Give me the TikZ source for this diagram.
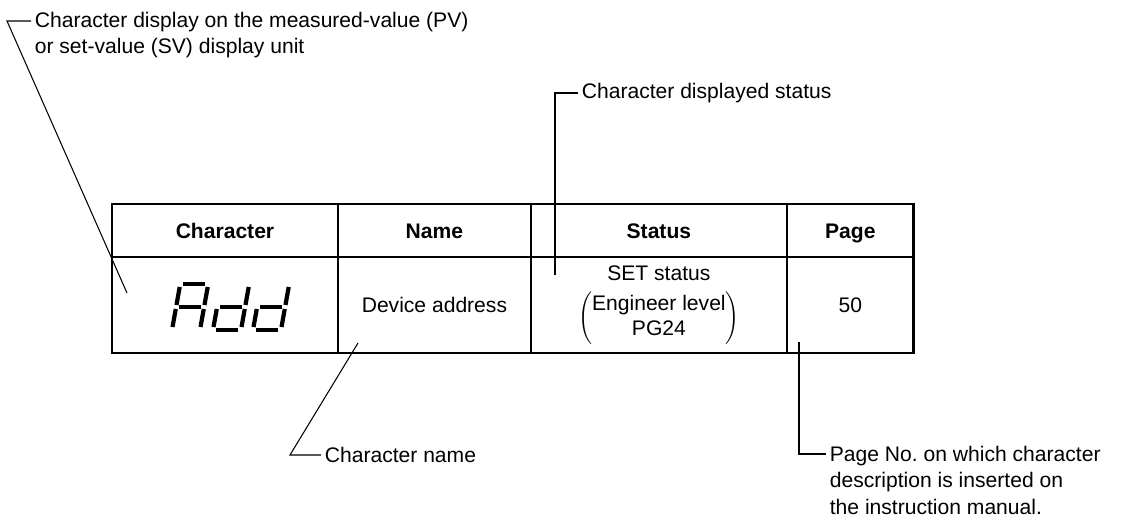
\documentclass[tikz,border=0pt]{standalone}
\usepackage{fontspec}
\setmainfont{Liberation Sans}
\usetikzlibrary{positioning, calc}
\tikzset{
	cell/.style = {draw, line width=1pt, inner sep=0pt, outer sep=0pt, align=center},
	headcell/.style = {cell, minimum height=1.06cm, font=\fontsize{12}{14}\selectfont\bfseries, text height=8.6pt, text depth=0pt},
	bodycell/.style = {cell, minimum height=1.92cm, font=\fontsize{12}{15}\selectfont},
	lbl/.style = {font=\fontsize{12}{15}\selectfont, align=left, inner xsep=2pt, inner ysep=0pt},
	leader/.style = {line width=0.6pt},
	seg/.style = {line width=2.4pt}
}
% one slanted 7-segment glyph: 0=a 1=b 2=c 3=d 4=e 5=f 6=g
\newcommand{\segdigit}[2]{%
	\begin{scope}[shift={#1}, xslant=0.18]
		\foreach \s in {#2}{%
			\ifcase\s
				\draw[seg] (3,-46) -- (25,-46);
			\or \draw[seg] (28,-43) -- (28,-25);
			\or \draw[seg] (28,-21) -- (28,-3);
			\or \draw[seg] (3,0) -- (25,0);
			\or \draw[seg] (0,-3) -- (0,-21);
			\or \draw[seg] (0,-25) -- (0,-43);
			\or \draw[seg] (3,-23) -- (25,-23);
			\fi}
	\end{scope}}

\begin{document}
\begin{tikzpicture}[x=0.02cm, y=-0.02cm]
	\useasboundingbox (0,0) rectangle (1140,522);

	% header row
	\node[headcell, minimum width=4.52cm, anchor=north west] (hChar) at (112,204) {Character};
	\node[headcell, minimum width=3.86cm, right=0pt of hChar] (hName) {Name};
	\node[headcell, minimum width=5.12cm, right=0pt of hName] (hStat) {Status};
	\node[headcell, minimum width=2.54cm, right=0pt of hStat] (hPage) {Page};

	% body row
	\node[bodycell, minimum width=4.52cm, below=0pt of hChar] (bChar) {};
	\node[bodycell, minimum width=3.86cm, below=0pt of hName] (bName) {Device address};
	\node[bodycell, minimum width=5.12cm, below=0pt of hStat] (bStat)
		{SET status\\[5pt]$\left(\begin{tabular}{@{}c@{}}Engineer level\\[-1pt]PG24\end{tabular}\right)$};
	\node[bodycell, minimum width=2.54cm, below=0pt of hPage] (bPage) {50};

	\draw[line width=1.6pt] (hChar.north west) rectangle (bPage.south east);
	\draw[line width=1.4pt] (hChar.south west) -- (hPage.south east);

	% Add on the display
	\segdigit{($(bChar.center)+(-53,25)$)}{0,1,2,4,5,6}
	\segdigit{($(bChar.center)+(-12,25)$)}{1,2,3,4,6}
	\segdigit{($(bChar.center)+(28,25)$)}{1,2,3,4,6}

	% labels
	\node[lbl, anchor=north west] (lblDisp) at (31,12)
		{Character display on the measured-value (PV)\\or set-value (SV) display unit};
	\node[lbl, anchor=west] (lblStat) at (578,93) {Character displayed status};
	\node[lbl, anchor=west] (lblName) at (321,455) {Character name};
	\node[lbl, anchor=north west] (lblPage) at (826,446)
		{Page No.\ on which character\\description is inserted on\\the instruction manual.};

	\coordinate (dispBend) at (7,21);
	\coordinate (dispTip) at (127,293);
	\coordinate (statBend) at (555,93);
	\coordinate (statTip) at (555,275);
	\coordinate (nameBend) at (290,455);
	\coordinate (nameTip) at (358,343);
	\coordinate (pageBend) at (799,454);
	\coordinate (pageTip) at (799,342);

	% leaders
	\draw[leader] ($(lblDisp.north west)+(0,9)$) -- (dispBend) -- (dispTip);
	\draw[leader] (lblStat.west) -- (statBend) -- (statTip);
	\draw[leader] (lblName.west) -- (nameBend) -- (nameTip);
	\draw[leader] ($(lblPage.north west)+(0,8)$) -- (pageBend) -- (pageTip);
\end{tikzpicture}
\end{document}
